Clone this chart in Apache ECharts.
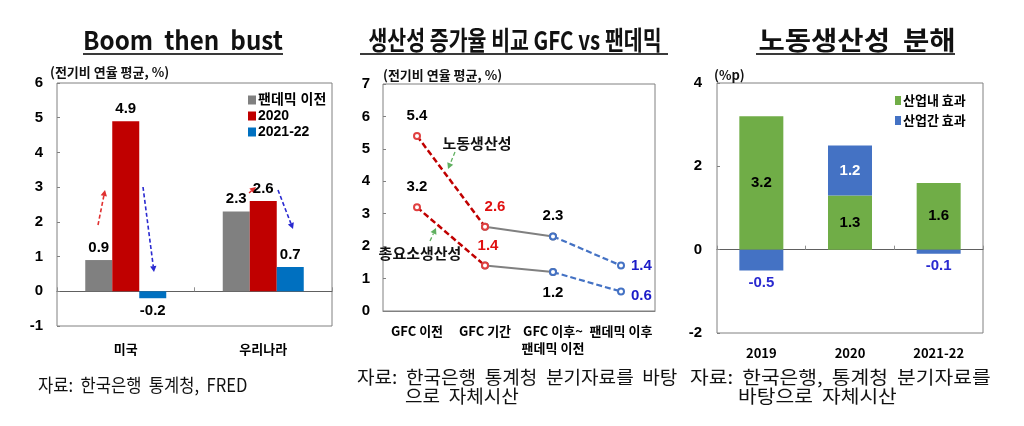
<!DOCTYPE html>
<html><head><meta charset="utf-8">
<script src="https://cdn.jsdelivr.net/npm/echarts@6/dist/echarts.min.js"></script>
<style>html,body{margin:0;padding:0;background:#fff}#c{width:1024px;height:426px}</style>
</head><body><div id="c"></div>
<script>
// ---- Panel 1: Boom then bust
const p1Categories = ['미국', '우리나라'];
const p1PrePandemic = [0.9, 2.3];
const p1Y2020 = [4.9, 2.6];
const p1Y2021_22 = [-0.2, 0.7];
// ---- Panel 2: GFC vs pandemic
const p2Categories = ['GFC 이전', 'GFC 기간', 'GFC 이후~\n팬데믹 이전', '팬데믹 이후'];
const p2Labor = [5.4, 2.6, 2.3, 1.4];
const p2TFP = [3.2, 1.4, 1.2, 0.6];
// ---- Panel 3: labour productivity decomposition
const p3Categories = ['2019', '2020', '2021-22'];
const p3Within = [3.2, 1.3, 1.6];
const p3Between = [-0.5, 1.2, -0.1];

const NUM = "'Liberation Sans Narrow','Liberation Sans','Noto Sans CJK KR',sans-serif";
const KR = "'Noto Sans CJK KR','Liberation Sans',sans-serif";

const chart = echarts.init(document.getElementById('c'), null, {renderer: 'canvas'});

function seg(arr, i, j, labels) {
  return arr.map((v, k) => {
    if (k < i || k > j) return null;
    if (labels && labels[k]) return {value: v, label: Object.assign({show: true, fontFamily: NUM, fontWeight: 'bold', fontSize: 15}, labels[k])};
    return v;
  });
}

const boxGrid = {show: true, borderColor: '#808080', borderWidth: 1, backgroundColor: 'transparent'};
const yAx = (gi, min, max, interval, margin) => ({
  type: 'value', gridIndex: gi, min, max, interval,
  axisLine: {show: false}, splitLine: {show: false},
  axisTick: {show: true, inside: true, length: 3, lineStyle: {color: '#808080'}},
  axisLabel: {color: '#000', fontFamily: NUM, fontWeight: 'bold', fontSize: 15, margin}
});
const xLab = (gi, data, margin) => ({
  type: 'category', gridIndex: gi, data, position: 'bottom',
  axisLine: {show: false, onZero: false}, axisTick: {show: false},
  axisLabel: {color: '#000', fontFamily: KR, fontWeight: 'bold', fontSize: 13, margin, lineHeight: 17, interval: 0}
});
const xZero = (gi, data) => ({
  type: 'category', gridIndex: gi, data, position: 'bottom',
  axisLine: {show: true, onZero: true, lineStyle: {color: '#606060', width: 1}},
  axisTick: {show: true, inside: true, length: 4, lineStyle: {color: '#909090'}},
  axisLabel: {show: false}
});

const barLbl = (pos, color) => ({show: true, position: pos, distance: 5, color: color || '#000', fontFamily: NUM, fontWeight: 'bold', fontSize: 15});

function p1Data(arr) {
  return arr.map(v => ({value: v, label: barLbl(v < 0 ? 'bottom' : 'top')}));
}

// decorative arrows
function arrow(x1, y1, x2, y2, color, w) {
  const ang = Math.atan2(y2 - y1, x2 - x1);
  const L = 6, W = 3.2;
  const bx = x2 - L * Math.cos(ang), by = y2 - L * Math.sin(ang);
  const px = -Math.sin(ang), py = Math.cos(ang);
  return [
    {type: 'line', silent: true, shape: {x1, y1, x2: bx, y2: by}, style: {stroke: color, lineWidth: w || 1.8, lineDash: [4, 2.5]}},
    {type: 'polygon', silent: true, shape: {points: [[x2, y2], [bx + px * W, by + py * W], [bx - px * W, by - py * W]]}, style: {fill: color}}
  ];
}
function txt(x, y, text, o, sx) {
  return {type: 'text', silent: true, x, y, scaleX: sx || 1, style: Object.assign({text, fill: '#111', font: '18px ' + KR, textVerticalAlign: 'middle'}, o || {})};
}
function title(cx, y, text, size, sx, x1, x2) {
  return [
    {type: 'text', silent: true, x: cx, y, scaleX: sx, style: {text, fill: '#111', font: 'bold ' + size + 'px ' + KR, textAlign: 'center', textVerticalAlign: 'middle'}},
    {type: 'line', silent: true, shape: {x1, y1: 54, x2, y2: 54}, style: {stroke: '#3a3a3a', lineWidth: 2}}
  ];
}

const RED = '#c00000', GRAY = '#808080', BLUE1 = '#0070c0';
const GREEN = '#70ad47', BLUE3 = '#4472c4';

const option = {
  animation: false,
  backgroundColor: '#fff',
  grid: [
    Object.assign({left: 57, top: 83, width: 275, height: 243}, boxGrid),
    Object.assign({left: 383, top: 84, width: 272, height: 227}, boxGrid),
    Object.assign({left: 717, top: 83, width: 266, height: 250}, boxGrid)
  ],
  xAxis: [
    xLab(0, p1Categories, 15),
    xZero(0, p1Categories),
    Object.assign(xLab(1, p2Categories, 12), {axisLine: {show: true, onZero: false, lineStyle: {color: '#808080'}}}),
    xLab(2, p3Categories, 12),
    xZero(2, p3Categories)
  ],
  yAxis: [
    yAx(0, -1, 6, 1, 14),
    yAx(1, 0, 7, 1, 13),
    yAx(2, -2, 4, 2, 15)
  ],
  legend: [
    {data: ['팬데믹 이전', '2020', '2021-22'], orient: 'vertical', left: 243, top: 88, itemWidth: 8, itemHeight: 9, itemGap: 2, icon: 'rect',
     textStyle: {color: '#000', fontFamily: NUM, fontWeight: 'bold', fontSize: 14, padding: [0, 0, 0, -3]}},
    {data: ['산업내 효과', '산업간 효과'], orient: 'vertical', left: 890, top: 89, itemWidth: 6, itemHeight: 9, itemGap: 7, icon: 'rect',
     textStyle: {color: '#000', fontFamily: KR, fontWeight: 'bold', fontSize: 13, padding: [0, 0, 0, -3]}}
  ],
  series: [
    {name: '팬데믹 이전', type: 'bar', xAxisIndex: 0, yAxisIndex: 0, data: p1Data(p1PrePandemic), itemStyle: {color: GRAY}, barWidth: 27, barGap: '0%'},
    {name: '2020', type: 'bar', xAxisIndex: 0, yAxisIndex: 0, data: p1Data(p1Y2020), itemStyle: {color: RED}, barWidth: 27, barGap: '0%'},
    {name: '2021-22', type: 'bar', xAxisIndex: 0, yAxisIndex: 0, data: p1Data(p1Y2021_22), itemStyle: {color: BLUE1}, barWidth: 27, barGap: '0%'},

    // panel 2 lines
    {name: 'L2', type: 'line', xAxisIndex: 2, yAxisIndex: 1, data: seg(p2Labor, 1, 2, {2: {position: 'top', distance: 9, color: '#000'}}),
     lineStyle: {color: GRAY, width: 2}, itemStyle: {color: GRAY}, symbol: 'emptyCircle', symbolSize: 6},
    {name: 'L3', type: 'line', xAxisIndex: 2, yAxisIndex: 1, data: seg(p2Labor, 2, 3, {3: {position: 'right', distance: 6, color: '#1c1cc8'}}),
     lineStyle: {color: BLUE3, width: 2.2, type: [6, 3]}, itemStyle: {color: BLUE3}, symbol: 'emptyCircle', symbolSize: 6},
    {name: 'L1', type: 'line', xAxisIndex: 2, yAxisIndex: 1, data: seg(p2Labor, 0, 1, {0: {position: 'top', distance: 9, color: '#000'}, 1: {position: 'top', distance: 8, offset: [10, 0], color: '#e01010'}}),
     lineStyle: {color: RED, width: 2.5, type: [6, 3]}, itemStyle: {color: '#e04040'}, symbol: 'emptyCircle', symbolSize: 6},
    {name: 'T2', type: 'line', xAxisIndex: 2, yAxisIndex: 1, data: seg(p2TFP, 1, 2, {2: {position: 'bottom', distance: 9, color: '#000'}}),
     lineStyle: {color: GRAY, width: 2}, itemStyle: {color: GRAY}, symbol: 'emptyCircle', symbolSize: 6},
    {name: 'T3', type: 'line', xAxisIndex: 2, yAxisIndex: 1, data: seg(p2TFP, 2, 3, {3: {position: 'right', distance: 6, offset: [0, 4], color: '#1c1cc8'}}),
     lineStyle: {color: BLUE3, width: 2.2, type: [6, 3]}, itemStyle: {color: BLUE3}, symbol: 'emptyCircle', symbolSize: 6},
    {name: 'T1', type: 'line', xAxisIndex: 2, yAxisIndex: 1, data: seg(p2TFP, 0, 1, {0: {position: 'top', distance: 9, color: '#000'}, 1: {position: 'top', distance: 8, offset: [3, 0], color: '#e01010'}}),
     lineStyle: {color: RED, width: 2.5, type: [6, 3]}, itemStyle: {color: '#e04040'}, symbol: 'emptyCircle', symbolSize: 6},

    // panel 3 stacked bars
    {name: '산업내 효과', type: 'bar', xAxisIndex: 3, yAxisIndex: 2, stack: 'd', data: p3Within, barWidth: 44, itemStyle: {color: GREEN},
     label: barLbl('inside')},
    {name: '산업간 효과', type: 'bar', xAxisIndex: 3, yAxisIndex: 2, stack: 'd', barWidth: 44, itemStyle: {color: BLUE3},
     data: p3Between.map(v => ({value: v, label: v < 0 ? barLbl('bottom', '#2a2ad0') : barLbl('inside', '#fff')}))}
  ],
  graphic: [
    ...title(183, 40, 'Boom  then  bust', 26, 0.93, 83, 283),
    ...title(515, 40, '생산성 증가율 비교 GFC vs 팬데믹', 26, 0.79, 360, 668),
    ...title(857, 40, '노동생산성  분해', 26, 1.1, 756, 955),
    txt(50, 72, '(전기비 연율 평균, %)', {font: 'bold 13px ' + KR}),
    txt(383, 75, '(전기비 연율 평균, %)', {font: 'bold 13px ' + KR}),
    txt(714, 75, '(%p)', {font: 'bold 13px ' + KR}),
    txt(38, 385, '자료:  한국은행  통계청,  FRED', null, 0.92),
    txt(357, 377, '자료:  한국은행  통계청  분기자료를  바탕', null, 1.06),
    txt(405, 396, '으로  자체시산', null, 1.06),
    txt(690, 377, '자료:  한국은행,  통계청  분기자료를', null, 1.13),
    txt(738, 396, '바탕으로  자체시산', null, 1.13),
    txt(477, 143, '노동생산성', {font: 'bold 15px ' + KR, textAlign: 'center'}),
    txt(420, 253, '총요소생산성', {font: 'bold 15px ' + KR, textAlign: 'center'}),
    ...arrow(98, 225, 105, 190, '#e03030', 1.6),
    ...arrow(143, 187, 154, 272, '#2a2ad0', 1.6),
    ...arrow(249, 193, 256, 187, '#e03030', 1.4),
    ...arrow(278, 190, 293, 229, '#2a2ad0', 1.6),
    ...arrow(455, 152, 448, 169, '#60b060', 1.3),
    ...arrow(430, 241, 436, 228, '#60b060', 1.3)
  ]
};
chart.setOption(option);
</script></body></html>
